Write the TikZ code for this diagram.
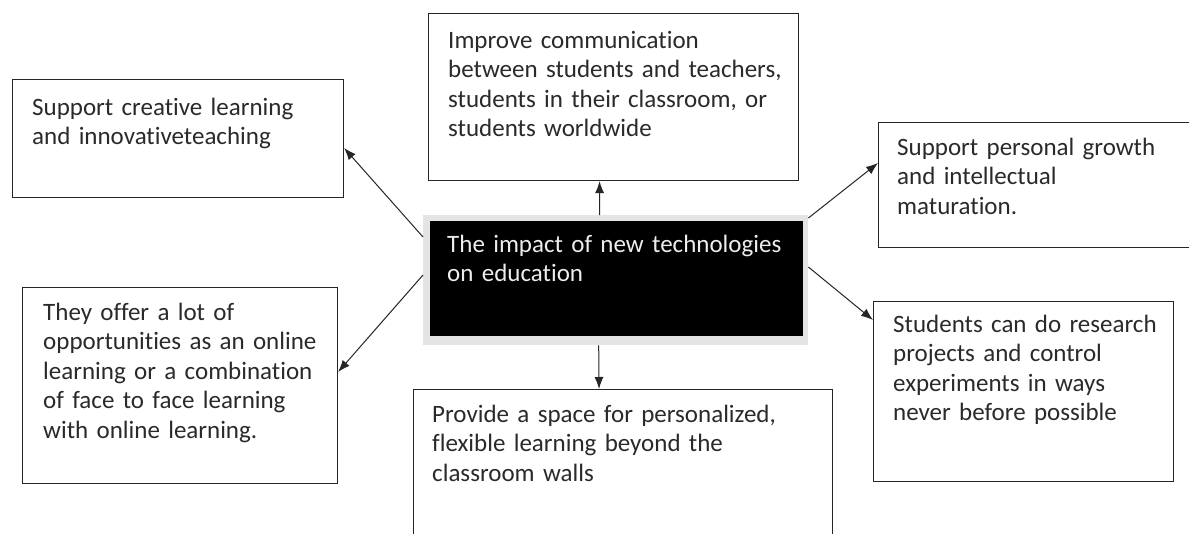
\documentclass[tikz,border=0pt]{standalone}
\usepackage{fontspec}
\setmainfont{Carlito}[Ligatures=NoCommon,WordSpace=0.7]
\usetikzlibrary{arrows.meta,positioning}
\definecolor{impInk}{HTML}{2A2A2A}
\definecolor{impGlow}{HTML}{E4E4E4}
\definecolor{impPaper}{HTML}{EDEDED}
\tikzset{
  card/.style={draw=black!85,line width=1.1pt,fill=white,anchor=north west,inner sep=0pt},
  txt/.style={font=\fontsize{25}{29.5}\selectfont,text=impInk,align=left,
              inner sep=0pt,anchor=base west},
  arr/.style={-{Latex[length=12pt,width=9pt]},draw=black!85,line width=1pt},
}

\begin{document}
\begin{tikzpicture}[x=1pt,y=-1pt]
  \clip (0,0) rectangle (1189,533);
  \fill[white] (0,0) rectangle (1189,533);

  % --- hub in the middle
  \node[fill=impGlow,anchor=north west,inner sep=0pt,minimum width=385,minimum height=130] (hub) at (423,215) {};
  \node[fill=black,anchor=north west,inner sep=0pt,minimum width=373,minimum height=115] (hubcore) at (430,221) {};
  \node[txt,text=impPaper,text width=350] (hubtext) at ([shift={(17,31)}]hubcore.north west)
    {The impact of new technologies\\on education};

  % --- boxes round it
  \node[card,minimum width=331,minimum height=118] (creative) at (12,79) {};
  \node[card,minimum width=370,minimum height=167] (comm)     at (428,13) {};
  \node[card,minimum width=320,minimum height=125] (growth)   at (878,122) {};
  \node[card,minimum width=300,minimum height=180] (research) at (873,301) {};
  \node[card,minimum width=315,minimum height=196] (online)   at (22,287) {};
  \node[card,minimum width=419,minimum height=160] (space)    at (413,389) {};

  \node[txt,text width=300] (creativeT) at ([shift={(20,36)}]creative.north west)
    {Support creative learning\\and innovativeteaching};
  \node[txt,text width=345] (commT) at ([shift={(20,35)}]comm.north west)
    {Improve communication\\between students and teachers,\\students in their classroom, or\\students worldwide};
  \node[txt,text width=290] (growthT) at ([shift={(19,33)}]growth.north west)
    {Support personal growth\\and intellectual\\maturation.};
  \node[txt,text width=275] (researchT) at ([shift={(20,31)}]research.north west)
    {Students can do research\\projects and control\\experiments in ways\\never before possible};
  \node[txt,text width=290] (onlineT) at ([shift={(21,33)}]online.north west)
    {They offer a lot of\\opportunities as an online\\learning or a combination\\of face to face learning\\with online learning.};
  \node[txt,text width=390] (spaceT) at ([shift={(19,33)}]space.north west)
    {Provide a space for personalized,\\flexible learning beyond the\\classroom walls};

  % --- arrows out of the hub
  \draw[arr] ([yshift=-22]hub.north west) -- ([yshift=-69]creative.north east);
  \draw[arr] ([xshift=-16]hub.north) -- ([xshift=-14]comm.south);
  \draw[arr] ([yshift=-3]hub.north east) -- ([yshift=-41]growth.north west);
  \draw[arr] ([yshift=-52]hub.north east) -- ([yshift=-19]research.north west);
  \draw[arr] ([yshift=-60]hub.north west) -- ([yshift=-85]online.north east);
  \draw[arr] ([xshift=-17]hub.south) -- ([xshift=-24]space.north);
\end{tikzpicture}
\end{document}
